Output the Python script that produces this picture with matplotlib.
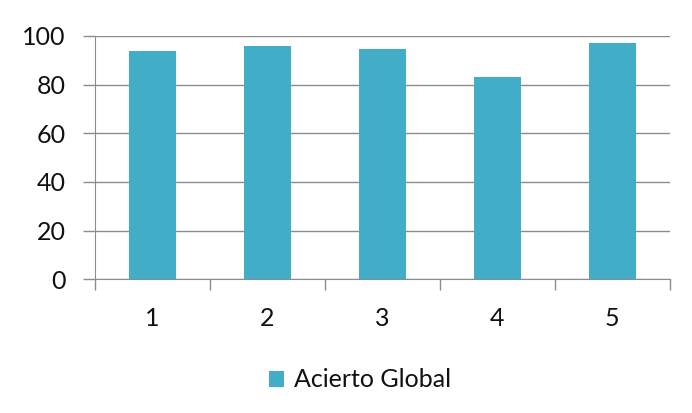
import matplotlib.pyplot as plt
import numpy as np

categories = ['1', '2', '3', '4', '5']
acierto = [93.8, 95.7, 94.8, 83.3, 97.1]
yticks = [0, 20, 40, 60, 80, 100]

plt.rcParams['font.family'] = ['Lato', 'DejaVu Sans']

fig = plt.figure(figsize=(6.92, 4.13), dpi=100)
ax = fig.add_axes([0.137, 0.324, 0.831, 0.589])

x = np.arange(len(categories))
ax.bar(x, acierto, width=0.41, color='#42adc7', label='Acierto Global', zorder=3)

ax.set_xlim(-0.5, len(categories) - 0.5)
ax.set_ylim(0, 100)
ax.set_yticks(yticks)
ax.yaxis.grid(True, color='#8c8c8c', linewidth=1.0, zorder=0)

# category ticks sit on the boundaries, labels in the middle
ax.set_xticks(np.arange(-0.5, len(categories)), minor=False)
ax.set_xticklabels([''] * (len(categories) + 1))
ax.set_xticks(x, minor=True)
ax.set_xticklabels(categories, minor=True)
ax.tick_params(axis='x', which='major', length=8, color='#8c8c8c', width=1)
ax.tick_params(axis='x', which='minor', length=0, pad=20, labelsize=18, labelcolor='#111111')
ax.tick_params(axis='y', length=9, color='#8c8c8c', width=1, pad=12, labelsize=18, labelcolor='#111111')

for side in ['top', 'right']:
    ax.spines[side].set_visible(False)
for side in ['left', 'bottom']:
    ax.spines[side].set_color('#8c8c8c')

fig.legend(loc='center', bbox_to_anchor=(0.52, 0.08), frameon=False, fontsize=18,
           handlelength=0.6, handleheight=0.6, handletextpad=0.4, labelcolor='#111111')

fig.savefig('out.png', dpi=100)
